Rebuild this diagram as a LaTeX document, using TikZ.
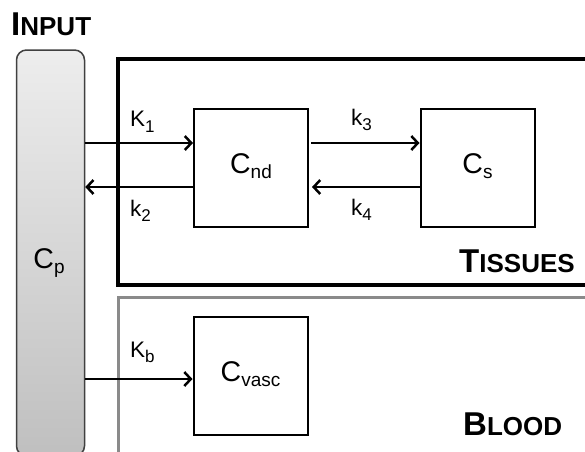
\documentclass[tikz,border=0pt]{standalone}
\usepackage{fontspec}
\setmainfont{Liberation Sans}
\usetikzlibrary{arrows.meta}
\definecolor{bloodgray}{HTML}{8A8A8A}
\definecolor{cpborder}{HTML}{404040}
\newcommand\ksub[2]{#1\raisebox{-5.5pt}{\fontsize{17}{17}\selectfont #2}}
\newcommand\csub[2]{#1\raisebox{-5pt}{\fontsize{19}{19}\selectfont #2}}
\newcommand\smc[2]{{\bfseries\fontsize{33}{33}\selectfont #1\fontsize{26}{26}\selectfont #2}}
\begin{document}
\begin{tikzpicture}[x=1pt,y=-1pt,
  cbox/.style={draw=black,line width=2pt,minimum width=114pt,minimum height=118pt,inner sep=0pt},
  cpbox/.style={draw=cpborder,line width=1.5pt,rounded corners=10pt,top color=black!7,bottom color=black!25,minimum width=68pt,minimum height=406pt,inner sep=0pt},
  arr/.style={line width=2.5pt,-{Straight Barb[length=6.5pt,width=14pt]}},
  klbl/.style={anchor=base west,inner sep=0pt,font=\fontsize{22.5}{24}\selectfont},
  clbl/.style={anchor=base,inner sep=0pt,font=\fontsize{28.5}{32}\selectfont},
  title/.style={anchor=base west,inner sep=0pt}]
\useasboundingbox (0,0) rectangle (585,451);
\clip (0,0) rectangle (585,451);
\fill[white] (0,0) rectangle (585,451);
% regions
\draw[line width=3.2pt,black] (118,59) rectangle (640,285);
\draw[line width=3pt,bloodgray] (118,297) rectangle (640,480);
% input column
\node[cpbox] (Cp) at (50.5,253) {};
% compartments
\node[cbox] (Cnd) at (251,168) {};
\node[cbox] (Cs) at (477.5,168) {};
\node[cbox] (Cv) at (250.5,376) {};
\node[clbl] (Lnd) at ([yshift=-5pt]Cnd.center) {\csub{C}{nd}};
\node[clbl] (Ls) at ([yshift=-5pt]Cs.center) {\csub{C}{s}};
\node[clbl] (Lv) at ([yshift=-5pt]Cv.center) {\csub{C}{vasc}};
\node[clbl] (Lp) at (49,268) {\csub{C}{p}};
% arrows
\coordinate (a1) at ([yshift=25pt]Cnd.west);
\coordinate (a2) at ([yshift=-19pt]Cnd.west);
\coordinate (ab) at ([yshift=-3pt]Cv.west);
\draw[arr] (Cp.east |- a1) -- (a1);
\draw[arr] (a2) -- (Cp.east |- a2);
\draw[arr] ([xshift=2pt]Cnd.east |- a1) -- (Cs.west |- a1);
\draw[arr] (Cs.west |- a2) -- ([xshift=3pt]Cnd.east |- a2);
\draw[arr] (Cp.east |- ab) -- (ab);
% rate labels
\node[klbl] (K1) at (130,126.5) {\ksub{K}{1}};
\node[klbl] (k2) at (130,216) {\ksub{k}{2}};
\node[klbl] (k3) at (351,125) {\ksub{k}{3}};
\node[klbl] (k4) at (351,215) {\ksub{k}{4}};
\node[klbl] (Kb) at (130,357) {\ksub{K}{b}};
% titles
\node[title] (tin) at (11,35) {\smc{I}{NPUT}};
\node[title] (tti) at (459,272) {\smc{T}{ISSUES}};
\node[title] (tbl) at (463,435) {\smc{B}{LOOD}};
\end{tikzpicture}
\end{document}
